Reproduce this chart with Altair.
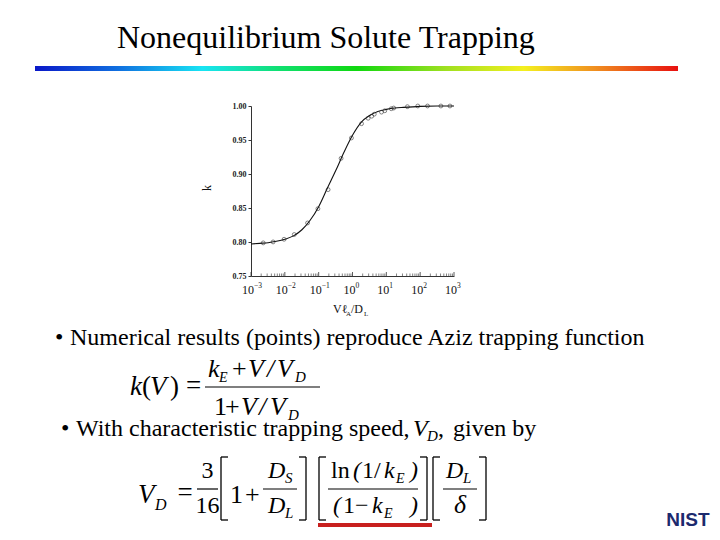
import altair as alt
import pandas as pd

# ---------------- data ----------------
sim_v = [0.0023, 0.0045, 0.0095, 0.019, 0.047, 0.095, 0.19, 0.46, 0.93, 1.85,
         2.9, 3.7, 4.4, 7.2, 9.0, 14.0, 16.5, 42.0, 85.0, 165.0, 410.0, 760.0]
sim_k = [0.7987, 0.8001, 0.804, 0.811, 0.828, 0.849, 0.877, 0.923, 0.953, 0.974,
         0.982, 0.985, 0.988, 0.991, 0.993, 0.996, 0.997, 0.999, 1.0, 1.0, 1.0, 1.0]

fit_v = [0.001, 0.0018, 0.0032, 0.0056, 0.01, 0.018, 0.032, 0.056, 0.1, 0.18, 0.32,
         0.56, 1.0, 1.8, 3.2, 5.6, 10.0, 18.0, 32.0, 100.0, 320.0, 1000.0]
fit_k = [0.797, 0.798, 0.799, 0.801, 0.804, 0.809, 0.818, 0.832, 0.852, 0.879, 0.905,
         0.932, 0.957, 0.976, 0.986, 0.992, 0.995, 0.997, 0.998, 0.9995, 1.0, 1.0]

major_ticks = [0.001, 0.01, 0.1, 1.0, 10.0, 100.0, 1000.0]
exponents = ["\u22123", "\u22122", "\u22121", "0", "1", "2", "3"]
minor_ticks = [m * d for d in [0.001, 0.01, 0.1, 1.0, 10.0, 100.0] for m in range(2, 10)]
y_ticks = [0.75, 0.80, 0.85, 0.90, 0.95, 1.00]

# ---------------- layout helpers ----------------
OX, OY = 251, 106          # page position of the plot origin
PW, PH = 203, 170          # plot size
SERIF = "Liberation Serif"
ONE = pd.DataFrame({"a": [0]})

XS = alt.X("v:Q", scale=alt.Scale(type="log", domain=[0.001, 1000]),
           axis=alt.Axis(labels=False, ticks=False, title=None, grid=False,
                         domainColor="#333", domainWidth=1))
YS = alt.Y("k:Q", scale=alt.Scale(domain=[0.75, 1.0], nice=False, zero=False),
           axis=alt.Axis(values=y_ticks, format=".2f", title=None, grid=False,
                         labelFont=SERIF, labelFontSize=8, labelFontWeight="bold",
                         labelColor="#222", tickSize=3, tickColor="#333",
                         labelPadding=2, domainColor="#333", domainWidth=1))


def txt(s, x, y, size, style="normal", align="left", weight="normal",
        color="#000", font=SERIF, angle=None):
    kw = dict(text=s, fontSize=size, fontStyle=style, align=align,
              baseline="alphabetic", fontWeight=weight, color=color, font=font)
    if angle is not None:
        kw["angle"] = angle
    return alt.Chart(ONE).mark_text(**kw).encode(x=alt.value(x - OX), y=alt.value(y - OY))


def seg(x1, y1, x2, y2, color="#000", w=1.3):
    return alt.Chart(ONE).mark_rule(color=color, strokeWidth=w).encode(
        x=alt.value(x1 - OX), x2=alt.value(x2 - OX),
        y=alt.value(y1 - OY), y2=alt.value(y2 - OY))


def lbr(x, y1=457, y2=520, s=7):
    return [seg(x, y1, x, y2), seg(x, y1, x + s, y1), seg(x, y2, x + s, y2)]


def rbr(x, y1=457, y2=520, s=7):
    return [seg(x, y1, x, y2), seg(x - s, y1, x, y1), seg(x - s, y2, x, y2)]


# ---------------- the small plot ----------------
fit = alt.Chart(pd.DataFrame({"v": fit_v, "k": fit_k})).mark_line(
    color="#111", strokeWidth=1.1, interpolate="monotone").encode(x=XS, y=YS)

pts = alt.Chart(pd.DataFrame({"v": sim_v, "k": sim_k})).mark_point(
    shape="circle", filled=False, size=15, color="#222", strokeWidth=0.8
).encode(x=XS, y=YS)

maj = alt.Chart(pd.DataFrame({"v": major_ticks})).mark_rule(
    color="#333", strokeWidth=0.8).encode(x=XS, y=alt.value(PH), y2=alt.value(PH - 4))
mnr = alt.Chart(pd.DataFrame({"v": minor_ticks})).mark_rule(
    color="#333", strokeWidth=0.6).encode(x=XS, y=alt.value(PH), y2=alt.value(PH - 2.5))

lab_base = alt.Chart(pd.DataFrame({"v": major_ticks})).mark_text(
    text="10", font=SERIF, fontSize=12, align="right", dx=3, baseline="alphabetic",
    color="#111").encode(x=XS, y=alt.value(294 - OY))
lab_exp = alt.Chart(pd.DataFrame({"v": major_ticks, "e": exponents})).mark_text(
    font=SERIF, fontSize=7.5, align="left", dx=3, baseline="alphabetic",
    color="#111").encode(x=XS, y=alt.value(288 - OY), text="e:N")

plot_layers = [fit, pts, maj, mnr, lab_base, lab_exp,
               txt("k", 211, 191, 12, angle=270, color="#111"),
               txt("V\u2113", 333, 313, 12, color="#111"),
               txt("A", 346, 316, 7, color="#111"),
               txt("/D", 351, 313, 12, color="#111"),
               txt("L", 364, 316, 7, color="#111")]

# ---------------- slide decorations ----------------
rainbow = alt.Chart(ONE).mark_rect(
    fill=alt.LinearGradient(
        gradient="linear", x1=0, x2=1, y1=0, y2=0,
        stops=[alt.GradientStop(color="#0a18c8", offset=0),
               alt.GradientStop(color="#1070e0", offset=0.13),
               alt.GradientStop(color="#18e4f4", offset=0.26),
               alt.GradientStop(color="#10e070", offset=0.38),
               alt.GradientStop(color="#10d810", offset=0.5),
               alt.GradientStop(color="#a0e020", offset=0.64),
               alt.GradientStop(color="#f4f020", offset=0.76),
               alt.GradientStop(color="#f09020", offset=0.87),
               alt.GradientStop(color="#e81010", offset=1.0)]),
    strokeWidth=0).encode(x=alt.value(35 - OX), x2=alt.value(678 - OX),
                          y=alt.value(66 - OY), y2=alt.value(71 - OY))

slide = [
    txt("Nonequilibrium Solute Trapping", 117, 48, 32),
    rainbow,
    txt("\u2022", 55, 345, 24),
    txt("Numerical results (points) reproduce Aziz trapping function", 70, 345, 24),
    txt("\u2022", 61, 436, 24),
    txt("With characteristic trapping speed,", 76, 436, 24),
    txt("V", 413, 436, 24, style="italic"),
    txt("D", 427, 441, 15, style="italic"),
    txt(",", 438, 436, 24),
    txt("given by", 453, 436, 24),
    # k(V) equation
    txt("k", 130, 395, 27, style="italic"),
    txt("(", 142, 395, 27),
    txt("V", 150, 395, 27, style="italic"),
    txt(")", 170, 395, 27),
    txt("=", 193.5, 394, 27, align="center"),
    txt("k", 208, 377, 26, style="italic"),
    txt("E", 219, 382, 14, style="italic"),
    txt("+", 232, 377, 26),
    txt("V", 248, 377, 26, style="italic"),
    txt("/", 267, 377, 26, style="italic"),
    txt("V", 277, 377, 26, style="italic"),
    txt("D", 295, 382, 15, style="italic"),
    seg(205, 387, 320, 387, w=1.2),
    txt("1", 214, 415, 26),
    txt("+", 225, 415, 26),
    txt("V", 241, 415, 26, style="italic"),
    txt("/", 259, 415, 26, style="italic"),
    txt("V", 270, 415, 26, style="italic"),
    txt("D", 288, 420, 15, style="italic"),
    # V_D equation
    txt("V", 138, 503, 27, style="italic"),
    txt("D", 155, 510, 16, style="italic"),
    txt("=", 185, 501, 27, align="center"),
    txt("3", 207.5, 478, 24, align="center"),
    txt("16", 207.5, 513, 24, align="center"),
    seg(197, 489, 218, 489, w=1.2),
    txt("1", 230, 503, 26),
    txt("+", 245, 503, 26),
    txt("D", 268, 478, 24, style="italic"),
    txt("S", 285, 483, 15, style="italic"),
    txt("D", 268, 513, 24, style="italic"),
    txt("L", 285, 518, 15, style="italic"),
    seg(263, 489, 297, 489, w=1.2),
    txt("ln", 331, 478, 24),
    txt("(", 353, 478, 24, style="italic"),
    txt("1/", 362, 478, 24),
    txt("k", 384, 478, 24, style="italic"),
    txt("E", 396, 483, 14, style="italic"),
    txt(")", 410, 478, 24, style="italic"),
    txt("(", 333, 513, 24, style="italic"),
    txt("1", 343, 513, 24),
    txt("\u2212", 355, 513, 24),
    txt("k", 372, 513, 24, style="italic"),
    txt("E", 384, 518, 14, style="italic"),
    txt(")", 410, 513, 24, style="italic"),
    seg(328, 489, 418, 489, w=1.2),
    txt("D", 446, 478, 24, style="italic"),
    txt("L", 463, 483, 15, style="italic"),
    txt("\u03b4", 460, 513, 26, style="italic", align="center"),
    seg(443, 489, 477, 489, w=1.2),
    seg(318, 525, 432, 525, color="#c8201e", w=4),
    txt("NIST", 688, 526, 19, weight="bold", color="#1c2a6e", font="Liberation Sans",
        align="center"),
]
slide += lbr(221) + rbr(306) + lbr(319) + rbr(427) + lbr(433) + rbr(486)

chart = alt.layer(*plot_layers, *slide).properties(
    width=PW, height=PH,
    padding={"left": OX - 8, "top": OY - 8,
             "right": 704 - (OX - 8) - PW, "bottom": 524 - (OY - 8) - PH},
    autosize=alt.AutoSizeParams(type="none"),
    background="white",
).configure_view(strokeWidth=0)

chart.save("out.html", embed_options={"renderer": "svg", "actions": False})
